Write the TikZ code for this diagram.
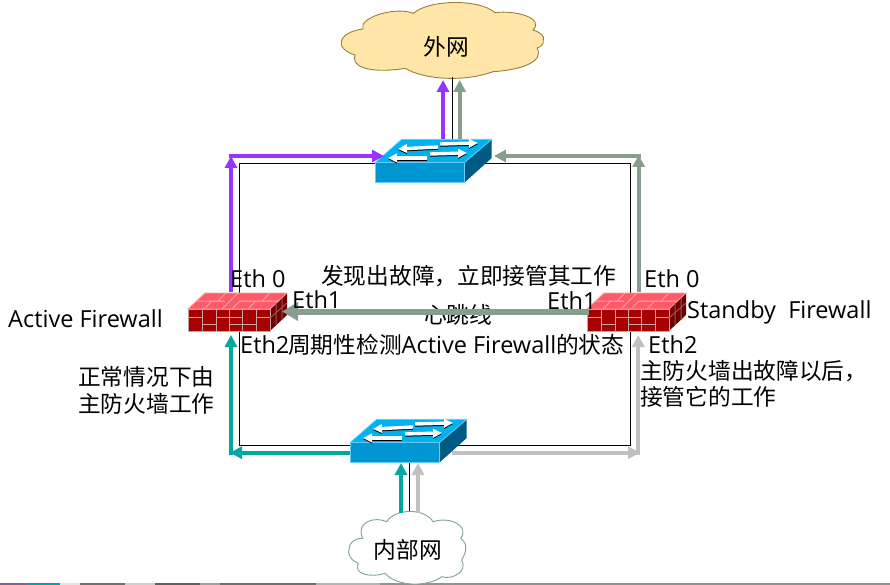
\documentclass[tikz,border=0pt]{standalone}
\usepackage{fontspec}
\setmainfont{Open Sans}
\newfontfamily\cjk{Noto Sans CJK SC}
\usetikzlibrary{arrows.meta}
\definecolor{cpurple}{HTML}{9933FF}
\definecolor{cteal}{HTML}{00A8A0}
\definecolor{csage}{HTML}{879E8E}
\definecolor{cgray}{HTML}{C0C0C0}
\definecolor{cloudF}{HTML}{FFE6A8}
\definecolor{cloudA}{HTML}{96803A}
\definecolor{cloudB}{HTML}{7F9FA0}
\newcommand{\zh}[1]{{\fontsize{22.7}{26}\selectfont\cjk #1}}
\newcommand{\swicon}[2]{%
\begin{scope}[shift={(#1,#2)}]
 \fill[swside] (464.3,162.7)--(491.7,139.3)--(491.7,158)--(464.3,182.7)--cycle;
 \filldraw[swtop] (375,162.7)--(401.7,139.3)--(491.7,139.3)--(464.3,162.7)--cycle;
 \filldraw[swfront] (375,162.7) rectangle (464.3,182.7);
 \foreach \a/\b/\c/\d in {438/147/398/149, 440/144/478/143, 427/158/388/158, 430/154/467/153}{
  \draw[swarrow,black] (\a,\b+1) -- (\c,\d+1);
  \draw[swarrow,white] (\a,\b) -- (\c,\d);
 }
\end{scope}}
\newcommand{\fwicon}[1]{%
\begin{scope}[shift={(#1,0)}]
 \fill[fill=fwside] (270,309)--(287,293)--(287,315)--(270,331)--cycle;
 \filldraw[fwtop] (188,309)--(205,293)--(287,293)--(270,309)--cycle;
 \filldraw[fwfront] (188,309) rectangle (270,331);
 \draw[fwmortar] (202,309)--(202,331) (216,309)--(216,331) (229,309)--(229,331) (242,309)--(242,331) (256,309)--(256,331)
  (188,317)--(202,317) (216,317)--(242,317) (256,317)--(270,317)
  (202,324)--(216,324) (229,324)--(256,324);
 \draw[fwmortar,draw=fwlight] (196,301)--(225,301) (240,301)--(278,301)
  (204,309)--(212,301) (222,309)--(238,293) (248,309)--(256,301) (262,301)--(270,293) (218,301)--(226,293) (232,309)--(240,301);
 \draw[fwmortar,draw=fwdark] (276,303)--(276,325) (282,298)--(282,320) (270,318)--(287,303);
\end{scope}}
\tikzset{
 swside/.style={fill=swdark},
 swtop/.style={fill=swup,draw=swedge,line width=.8pt},
 swfront/.style={fill=swface,draw=swedge,line width=.8pt},
 swarrow/.style={line width=3.4pt,-{Triangle[width=8.5pt,length=9pt]}},
 fwtop/.style={fill=fwred,draw=fwlight,line width=.8pt},
 fwfront/.style={fill=fwdeep,draw=fwgrey,line width=.8pt},
 fwmortar/.style={draw=fwgrey,line width=1pt},
 wire/.style={draw=black,line width=1pt},
 rarrow/.style={line width=4pt,-{Triangle[width=12pt,length=12pt]}},
 lbl/.style={inner sep=0pt,anchor=base west,text=black,font=\fontsize{23.5}{26}\selectfont},
 zlbl/.style={inner sep=0pt,anchor=base west,text=black,font=\fontsize{22.7}{26}\selectfont\cjk},
 icon/.style={inner sep=0pt,outer sep=0pt,rectangle},
}
\definecolor{swdark}{HTML}{005A82}
\definecolor{swup}{HTML}{00B2F0}
\definecolor{swface}{HTML}{0096D2}
\definecolor{swedge}{HTML}{66CCFF}
\definecolor{fwred}{HTML}{FF5A68}
\definecolor{fwdeep}{HTML}{A60000}
\definecolor{fwside}{HTML}{6E0000}
\definecolor{fwlight}{HTML}{FFA0A8}
\definecolor{fwgrey}{HTML}{C4A4A4}
\definecolor{fwdark}{HTML}{A05050}
\begin{document}
\begin{tikzpicture}[x=1pt,y=-1pt]
\useasboundingbox (0,0) rectangle (890,585);
% strip along the lower edge
\foreach \a/\b/\c in {0/27/8060A0,27/60/00A0C0,60/80/E4E4E4,80/125/707070,125/155/D0D0D0,155/200/606060,200/220/A0A0A0,220/316/707070,316/380/B4B4B4,380/890/929292}{
 \definecolor{stripc}{HTML}{\c}
 \fill[stripc] (\a,583) rectangle (\b,585);
}
% clouds
\filldraw[fill=cloudF,draw=cloudA,line width=.9pt]
 (341.7,40) .. controls (345,33) and (355,30) .. (363,29)
 .. controls (358,18) and (395,6) .. (413.3,13.3)
 .. controls (430,-1) and (480,-1) .. (495,12.7)
 .. controls (515,10) and (545,18) .. (533,30)
 .. controls (540,32) and (545,36) .. (543.3,40)
 .. controls (544,44) and (541,47) .. (537,48)
 .. controls (545,62) and (520,70) .. (493,71.7)
 .. controls (465,82) and (425,80) .. (405,68.3)
 .. controls (385,72) and (350,72) .. (355,55)
 .. controls (345,52) and (339,46) .. cycle;
\filldraw[fill=white,draw=cloudB,line width=.9pt]
 (349.3,548) .. controls (349,543) and (355,538) .. (362.7,538.3)
 .. controls (355,522) and (375,516) .. (386.7,521.7)
 .. controls (395,508) and (425,508) .. (433,521.7)
 .. controls (450,516) and (470,526) .. (460.7,538.3)
 .. controls (464,541) and (466,544) .. (465.7,548)
 .. controls (466,553) and (463,557) .. (461.7,560)
 .. controls (468,572) and (452,580) .. (441.7,576.7)
 .. controls (428,587) and (397,587) .. (385,573.3)
 .. controls (370,578) and (353,574) .. (358.3,563.3)
 .. controls (350,560) and (347,553) .. cycle;
\node[zlbl,anchor=base] (net) at (446,56) {外网};
\node[zlbl,anchor=base] (lan) at (408,558) {内部网};
% named places
\node[icon,minimum width=117pt,minimum height=43pt] (swT) at (433.3,161) {};
\node[icon,minimum width=117pt,minimum height=43pt] (swB) at (408.3,441) {};
\node[icon,minimum width=99pt,minimum height=38pt] (fwL) at (237.5,312) {};
\node[icon,minimum width=99pt,minimum height=38pt] (fwR) at (636.5,312) {};
% thin wires
\coordinate (wTL) at (239.5,164); \coordinate (wBL) at (239.5,445);
\coordinate (wTR) at (630.7,164); \coordinate (wBR) at (630.7,445);
\coordinate (wTa) at (452.3,77.5); \coordinate (wTb) at (452.3,140);
\coordinate (wBa) at (409.3,462); \coordinate (wBb) at (409.3,511);
\draw[wire] (wTL -| swT) -- (wTL) -- (wBL) -- (wBL -| swB);
\draw[wire] (wTR -| swT) -- (wTR) -- (wBR) -- (wBR -| swB);
\draw[wire] (wTa) -- (wTb);
\draw[wire] (wBa) -- (wBb);
% icons
\swicon{0}{0}
\swicon{-25}{280}
\fwicon{0}
\fwicon{399}
% heartbeat label goes under the arrow
\node[zlbl] (tHb) at (424,323) {心跳线};
% purple
\coordinate (pA) at (231,292); \coordinate (pB) at (231,156); \coordinate (pC) at (229,156); \coordinate (pD) at (384,156);
\draw[rarrow,cpurple] (pA) -- (pB);
\draw[rarrow,cpurple] (pC) -- (pD);
\coordinate (pE) at (443,139); \coordinate (pF) at (443,80);
\draw[rarrow,cpurple] (pE) -- (pF);
% sage
\coordinate (sA) at (638.7,292); \coordinate (sB) at (638.7,155); \coordinate (sC) at (640.7,156); \coordinate (sD) at (494,156);
\draw[rarrow,csage] (sA) -- (sB);
\draw[rarrow,csage] (sC) -- (sD);
\coordinate (sE) at (459.7,139); \coordinate (sF) at (459.7,80);
\draw[rarrow,csage] (sE) -- (sF);
% heartbeat
\coordinate (hA) at (589,311.5); \coordinate (hB) at (282,311.5);
\coordinate (hC) at (589,314.5); \coordinate (hD) at (296,314.5);
\draw[csage,line width=1pt] (hC) -- (hD);
\draw[line width=4.5pt,csage,-{Triangle[width=18pt,length=16pt]}] (hA) -- (hB);
% teal
\coordinate (tA) at (350,452.7); \coordinate (tB) at (230,452.7);
\coordinate (tC) at (231,454.7); \coordinate (tD) at (231,335);
\draw[rarrow,cteal] (tA) -- (tB);
\draw[rarrow,cteal] (tC) -- (tD);
\coordinate (tE) at (401,513); \coordinate (tF) at (401,463);
\draw[rarrow,cteal] (tE) -- (tF);
% grey
\coordinate (gA) at (452,452.7); \coordinate (gB) at (640,452.7);
\coordinate (gC) at (638.3,454.7); \coordinate (gD) at (638.3,335);
\draw[rarrow,cgray] (gA) -- (gB);
\draw[rarrow,cgray] (gC) -- (gD);
\coordinate (gE) at (418,513); \coordinate (gF) at (418,463);
\draw[rarrow,cgray] (gE) -- (gF);
% labels
\node[lbl] (e0L) at (230,287) {Eth 0};
\node[lbl] (e1L) at (292,308) {Eth1};
\node[lbl] (e2L) at (240,353) {Eth2};
\node[lbl] (e0R) at (644,287) {Eth 0};
\node[lbl] (e1R) at (547,309) {Eth1};
\node[lbl] (e2R) at (648,353) {Eth2};
\node[lbl] (act) at (8,327) {Active Firewall};
\node[lbl] (sta) at (687,318) {Standby\ \ Firewall};
\node[zlbl] (t1) at (321,284) {发现出故障，立即接管其工作};
\node[lbl] (t2) at (288,353) {\zh{周期性检测}Active Firewall\zh{的状态}};
\node[zlbl] (t3) at (640,379) {主防火墙出故障以后，};
\node[zlbl] (t4) at (640,405) {接管它的工作};
\node[zlbl] (t5) at (78,385) {正常情况下由};
\node[zlbl] (t6) at (78,412) {主防火墙工作};
\end{tikzpicture}
\end{document}
